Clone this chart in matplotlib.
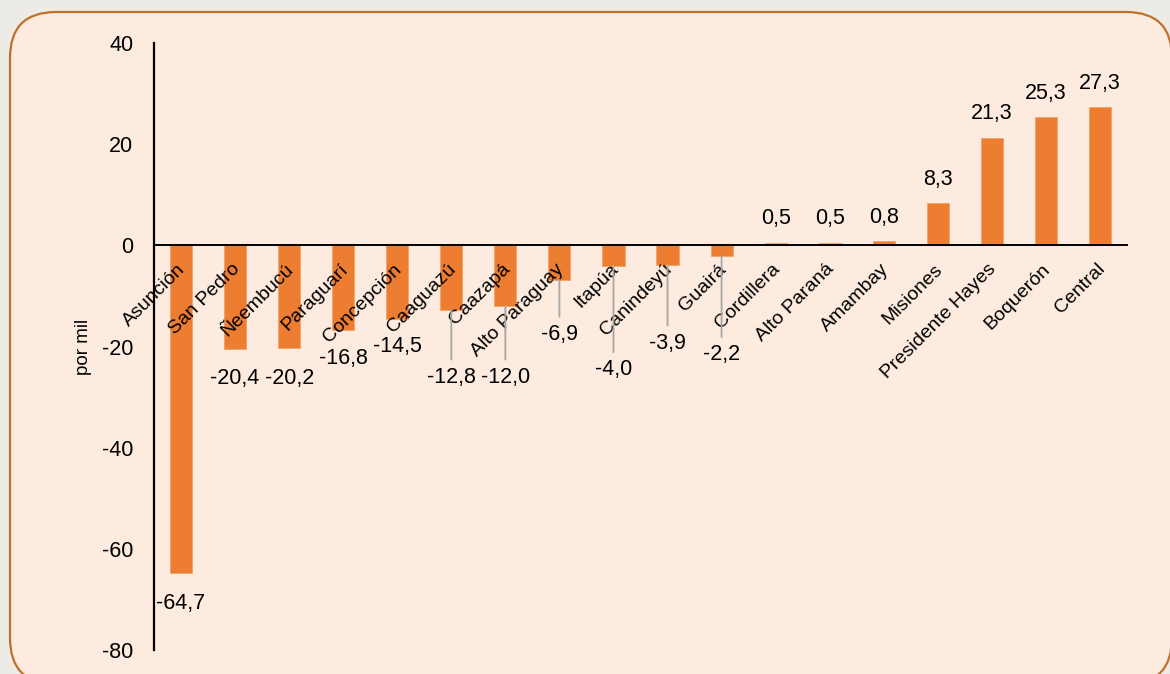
import matplotlib.pyplot as plt
import matplotlib.transforms as mtransforms
from matplotlib.patches import FancyBboxPatch

plt.rcParams['font.family'] = ['Liberation Sans', 'DejaVu Sans']
plt.rcParams['axes.unicode_minus'] = False

# data
departamentos = ['Asunción', 'San Pedro', 'Ñeembucú', 'Paraguarí', 'Concepción',
                 'Caaguazú', 'Caazapá', 'Alto Paraguay', 'Itapúa', 'Canindeyú',
                 'Guairá', 'Cordillera', 'Alto Paraná', 'Amambay', 'Misiones',
                 'Presidente Hayes', 'Boquerón', 'Central']
tasa = [-64.7, -20.4, -20.2, -16.8, -14.5, -12.8, -12.0, -6.9, -4.0, -3.9,
        -2.2, 0.5, 0.5, 0.8, 8.3, 21.3, 25.3, 27.3]
yticks = [-80, -60, -40, -20, 0, 20, 40]

# label offsets in pixels (center of text relative to bar end), leader line flag
label_dy = [-31, -30, -31, -28, -28, -67, -71, -54, -104, -78, -98,
            24, 24, 24, 24, 24, 24, 24]
leader = [False] * 5 + [True] * 6 + [False] * 7

ORANGE = '#ED7D31'
PANEL = '#FCEBDE'
OUTER = '#EDEBE6'
BORDER = '#C0702A'

fig = plt.figure(figsize=(11.7, 6.74), dpi=100)
fig.patch.set_facecolor(OUTER)

# rounded panel in pixel coords
panel = FancyBboxPatch((10, -10), 1162, 672,
                       boxstyle='round,pad=0,rounding_size=46',
                       transform=mtransforms.IdentityTransform(),
                       facecolor=PANEL, edgecolor=BORDER, linewidth=1.6,
                       zorder=-10)
fig.patches.append(panel)

ax = fig.add_axes([154 / 1170, 1 - 650 / 674, 973 / 1170, 607 / 674])
ax.set_facecolor('none')
ax.set_axisbelow(False)  # category names drawn over the bars

# spines first (moving a spine resets the tick labels)
for s in ['top', 'right']:
    ax.spines[s].set_visible(False)
ax.spines['bottom'].set_position(('data', 0))
ax.spines['bottom'].set_linewidth(1.4)
ax.spines['left'].set_linewidth(1.6)
ax.spines['left'].set_color('black')

x = list(range(len(departamentos)))
ax.bar(x, tasa, width=0.41, color=ORANGE, edgecolor='#F3A266',
       linewidth=0.6, zorder=2)

ax.set_xlim(-0.5, len(departamentos) - 0.5)
ax.set_ylim(-80, 40)
ax.set_yticks(yticks)
ax.set_yticklabels([str(t) for t in yticks])
ax.tick_params(axis='y', length=0, pad=15, labelsize=15.5)

ax.set_xticks(x)
ax.set_xticklabels(departamentos, rotation=45, ha='right', va='top',
                   rotation_mode='anchor', fontsize=14)
ax.tick_params(axis='x', length=0, pad=11)
offset = mtransforms.ScaledTranslation(-4 / 100, 0, fig.dpi_scale_trans)
for lab in ax.get_xticklabels():
    lab.set_transform(lab.get_transform() + offset)

ax.set_ylabel('por mil', fontsize=13.5)
ax.yaxis.set_label_coords(-0.064, 0.5)

for i, v in enumerate(tasa):
    txt = f'{v:.1f}'.replace('.', ',')
    dy = label_dy[i] * 0.72
    if leader[i]:
        ax.annotate(txt, xy=(i, v), xytext=(0, dy), textcoords='offset points',
                    ha='center', va='center', fontsize=15.5,
                    arrowprops=dict(arrowstyle='-', color='#A6A6A6', lw=1.3,
                                    shrinkA=3, shrinkB=0))
    else:
        ax.annotate(txt, xy=(i, v), xytext=(0, dy), textcoords='offset points',
                    ha='center', va='center', fontsize=15.5)

fig.savefig('out.png', dpi=100, facecolor=fig.get_facecolor())
